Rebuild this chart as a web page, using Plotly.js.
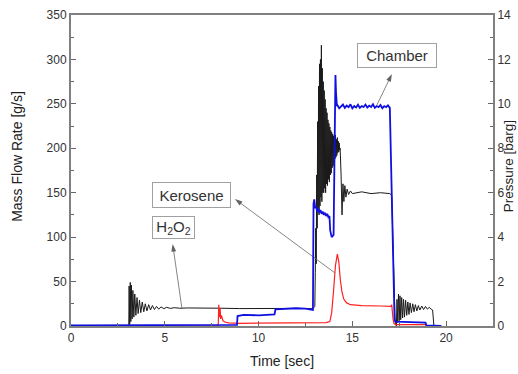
<!DOCTYPE html>
<html><head><meta charset="utf-8">
<script src="https://cdn.plot.ly/plotly-3.0.1.min.js"></script>
<style>html,body{margin:0;padding:0;background:#fff}#chart{width:518px;height:374px}</style>
</head><body><div id="chart"></div>
<script>
// H2O2 mass flow rate [g/s] (black, left axis)
const h2o2T = [0,3.05,3.08,3.1,3.13,3.16,3.19,3.22,3.26,3.3,3.35,3.4,3.46,3.52,3.58,3.65,3.72,3.8,3.88,3.96,4.05,4.14,4.24,4.34,4.45,4.56,4.68,4.8,4.95,5.1,5.3,5.5,5.8,6.2,7,8,9,10,11,12,12.9,
  13.0,13.025,13.05,13.075,13.1,13.125,13.15,13.175,13.2,13.225,13.25,13.275,13.3,13.325,13.35,13.375,13.4,13.425,13.45,13.475,13.5,13.525,13.55,13.575,13.6,13.625,13.65,13.675,13.7,13.725,13.75,13.775,13.8,13.825,13.85,13.875,13.9,13.925,13.95,13.975,
  14.0,14.025,14.05,14.075,14.1,14.125,14.15,14.175,14.2,14.225,14.25,14.275,14.3,14.325,14.35,14.4,14.45,14.5,14.55,14.6,14.66,14.72,14.8,14.9,15.0,15.5,16,16.5,17.0,17.1,
  17.2,17.28,17.35,17.38,17.42,17.46,17.5,17.54,17.58,17.63,17.68,17.73,17.78,17.84,17.9,17.96,18.02,18.08,18.15,18.22,18.29,18.36,18.44,18.52,18.6,18.7,18.8,18.9,19.0,19.1,19.2,19.28,19.35];
const h2o2V = [0,0,0,45,2,49,5,46,8,40,10,36,12,32,14,29,15,27,16,25,17,24,18,23,18.5,22,19,21.5,19.5,21,19.8,20.6,20,20.3,19.8,20,19.6,19.8,19.5,19.8,19.5,
  22,60,110,70,170,110,230,130,270,125,295,135,300,145,316,140,290,150,275,150,265,155,255,150,245,160,240,158,232,165,228,162,224,170,220,172,218,178,216,180,
  214,184,212,188,215,190,210,192,212,195,208,196,206,198,200,170,125,160,140,158,145,154,148,152,149,151,149,150,149,147,
  60,5,0,30,4,36,6,34,7,32,9,30,10,29,12,27,13,26,15,25,16,24,17,23,18,22.5,18.5,22,19,21,19,18,0];
// Kerosene mass flow rate [g/s] (red, left axis)
const keroT = [0,7.85,7.88,7.92,7.95,7.98,8.02,8.1,8.2,8.4,9,10,11,12,13,13.6,13.8,13.9,14.0,14.1,14.2,14.28,14.36,14.45,14.55,14.7,14.9,15.5,16.5,17.05,17.1,17.12,17.17,17.22,17.3,18.9,18.95];
const keroV = [0,0,24,10,20,8,12,6,4.5,3.5,3,3,3.2,3.5,3.5,3.8,5,15,40,68,81,72,52,38,30,26,24,23,22.5,22,24,14,8,3,1.5,1.5,0];
// Chamber pressure [barg] (blue, right axis)
const chamT = [0,8.85,8.88,9.2,10,10.5,10.85,10.9,11.5,12,12.5,12.9,12.93,12.97,13.02,13.07,13.12,13.18,13.24,13.3,13.36,13.42,13.48,13.54,13.6,13.66,13.72,13.78,13.82,13.9,14.0,14.07,14.1,14.13,14.18,
  14.2,14.3,14.4,14.5,14.6,14.7,14.8,14.9,15.0,15.1,15.2,15.3,15.4,15.5,15.6,15.7,15.8,15.9,16.0,16.1,16.2,16.3,16.4,16.5,16.6,16.7,16.8,16.9,17.0,17.25,17.3,18.9,18.95,19.7,19.75];
const chamV = [0.03,0.05,0.45,0.5,0.48,0.5,0.52,0.75,0.78,0.8,0.78,0.72,5.5,5.7,5.3,5.4,5.15,5.3,5.1,5.22,5.05,5.15,5.0,5.1,4.95,5.05,4.9,4.95,4.3,4.0,4.1,8,11.3,10.5,9.9,
  9.95,9.8,9.9,9.97,9.82,9.92,9.85,9.98,9.8,9.9,9.84,9.96,9.82,9.9,9.86,9.97,9.83,9.92,9.86,9.98,9.82,9.9,9.85,9.95,9.8,9.9,9.85,9.93,9.82,0.3,0.2,0.15,0.03,0.03,0];

const xTicks = [0,5,10,15,20];
const yTicks = [0,50,100,150,200,250,300,350];
const y2Ticks = [0,2,4,6,8,10,12,14];

// callout arrows: [tail x, head x], [tail y, head y] in axis units
const arrowChamberX = [16.31, 17.11], arrowChamberY = [248.7, 283.6];
const arrowKeroX = [14.08, 8.74], arrowKeroY = [59.6, 142.9];
const arrowH2o2X = [5.92, 5.42], arrowH2o2Y = [19.1, 92.3];

const F = 'Arial, "Liberation Sans", sans-serif';
const axCommon = {showline:true, linecolor:'#808080', linewidth:2, ticks:'inside', ticklen:5, tickcolor:'#666',
  showgrid:false, zeroline:false, tickfont:{family:F, size:12, color:'#333'}, fixedrange:true};

function arrowTrace(xs, ys){
  return {x:xs, y:ys, type:'scatter', mode:'lines+markers', yaxis:'y', hoverinfo:'skip',
    line:{color:'#666', width:0.8},
    marker:{symbol:'arrow', angleref:'previous', size:[0,8], color:'#222', line:{width:0}}};
}

const traces = [
  {x:h2o2T, y:h2o2V, type:'scatter', mode:'lines', line:{color:'#1a1a1a', width:1}, yaxis:'y'},
  {x:keroT, y:keroV, type:'scatter', mode:'lines', line:{color:'#ff2020', width:1.2}, yaxis:'y'},
  {x:chamT, y:chamV, type:'scatter', mode:'lines', line:{color:'#1010e0', width:1.8}, yaxis:'y2'},
  arrowTrace(arrowChamberX, arrowChamberY),
  arrowTrace(arrowKeroX, arrowKeroY),
  arrowTrace(arrowH2o2X, arrowH2o2Y)
];

const boxStyle = {showarrow:false, bordercolor:'#a0a0a0', borderwidth:1, bgcolor:'#fff', font:{family:F, size:15, color:'#333'}, xref:'x', yref:'y'};

const layout = {
  width:518, height:374, margin:{l:71, r:25, t:15, b:48},
  paper_bgcolor:'#fff', plot_bgcolor:'#fff', showlegend:false,
  font:{family:F, color:'#333'},
  xaxis:Object.assign({}, axCommon, {range:[0,22.5], tickvals:xTicks, mirror:true, minor:{dtick:2.5, ticks:'inside', ticklen:3, tickcolor:'#666'}}),
  yaxis:Object.assign({}, axCommon, {range:[0,350], tickvals:yTicks, minor:{dtick:25, ticks:'inside', ticklen:3, tickcolor:'#666'}}),
  yaxis2:Object.assign({}, axCommon, {range:[0,14], tickvals:y2Ticks, overlaying:'y', side:'right', minor:{dtick:1, ticks:'inside', ticklen:3, tickcolor:'#666'}}),
  annotations:[
    {text:'Mass Flow Rate [g/s]', xref:'paper', yref:'paper', x:-0.128, y:0.547, xanchor:'center', yanchor:'middle', textangle:-90, showarrow:false, font:{family:F, size:14, color:'#222'}},
    {text:'Pressure [barg]', xref:'paper', yref:'paper', x:1.036, y:0.514, xanchor:'center', yanchor:'middle', textangle:-90, showarrow:false, font:{family:F, size:13.5, color:'#222'}},
    {text:'Time [sec]', xref:'paper', yref:'paper', x:0.5, y:-0.112, xanchor:'center', yanchor:'middle', showarrow:false, font:{family:F, size:14, color:'#222'}},
    Object.assign({}, boxStyle, {text:'Chamber', x:17.38, y:304.4, width:76, height:21, borderpad:1}),
    Object.assign({}, boxStyle, {text:'Kerosene', x:6.42, y:147.4, width:75, height:22, borderpad:1}),
    Object.assign({}, boxStyle, {text:'H<sub>2</sub>O<sub>2</sub>', x:5.46, y:110.8, width:39, height:19, borderpad:1})
  ]
};
Plotly.newPlot('chart', traces, layout, {displayModeBar:false, staticPlot:true});
</script></body></html>
